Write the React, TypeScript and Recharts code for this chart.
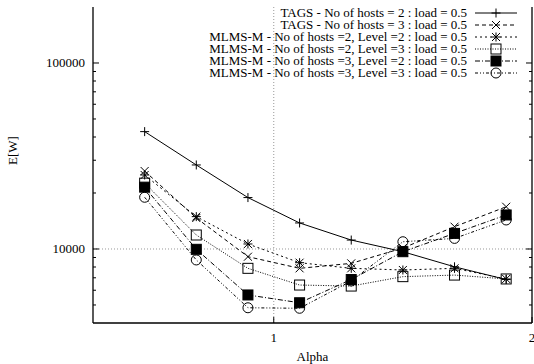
import React from "react";
import {
  LineChart, Line, XAxis, YAxis, ReferenceLine,
} from "recharts";

// ─── Data ─────────────────────────────────────────────────────────────────────
const alpha = [0.5, 0.7, 0.9, 1.1, 1.3, 1.5, 1.7, 1.9];

const tagsH2 = [42760, 28300, 18900, 13800, 11170, 9670, 8020, 6850];
const tagsH3 = [26250, 14680, 9090, 7870, 8370, 10120, 13180, 16870];
const mlmsH2L2 = [25000, 14930, 10640, 8440, 7870, 7710, 7870, 6900];
const mlmsH2L3 = [22600, 11890, 7870, 6400, 6320, 7100, 7240, 6900];
const mlmsH3L2 = [21500, 9960, 5660, 5140, 6850, 9670, 12130, 15240];
const mlmsH3L3 = [18970, 8730, 4830, 4800, 6730, 10940, 11400, 14320];

const xTicks = [1, 2];
const yMajor = [10000, 100000];
const yMinor = [5000, 6000, 7000, 8000, 9000, 20000, 30000, 40000, 50000, 60000, 70000, 80000, 90000];

const data = alpha.map((a, i) => ({
  alpha: a,
  tagsH2: tagsH2[i],
  tagsH3: tagsH3[i],
  mlmsH2L2: mlmsH2L2[i],
  mlmsH2L3: mlmsH2L3[i],
  mlmsH3L2: mlmsH3L2[i],
  mlmsH3L3: mlmsH3L3[i],
}));

type MarkerKind = "plus" | "cross" | "star" | "box" | "boxFilled" | "circle";

const SERIES: { key: string; name: string; dash?: string; marker: MarkerKind }[] = [
  { key: "tagsH2", name: "TAGS - No of hosts = 2 : load = 0.5", marker: "plus" },
  { key: "tagsH3", name: "TAGS - No of hosts = 3 : load = 0.5", dash: "4 3", marker: "cross" },
  { key: "mlmsH2L2", name: "MLMS-M - No of hosts =2, Level =2 : load = 0.5", dash: "2 3", marker: "star" },
  { key: "mlmsH2L3", name: "MLMS-M - No of hosts =2, Level =3 : load = 0.5", dash: "1 1.5", marker: "box" },
  { key: "mlmsH3L2", name: "MLMS-M - No of hosts =3, Level =2 : load = 0.5", dash: "5 2 1 2", marker: "boxFilled" },
  { key: "mlmsH3L3", name: "MLMS-M - No of hosts =3, Level =3 : load = 0.5", dash: "3 2 1 2 1 2", marker: "circle" },
];

const FONT = "'Liberation Serif', 'DejaVu Serif', serif";

// ─── Point markers (gnuplot style) ────────────────────────────────────────────
const Marker = ({ kind, cx, cy }: { kind: MarkerKind; cx: number; cy: number }) => {
  const s = { stroke: "#000", strokeWidth: 1, fill: "none" };
  switch (kind) {
    case "plus":
      return <path d={`M${cx - 4.5},${cy}H${cx + 4.5}M${cx},${cy - 4.5}V${cy + 4.5}`} {...s} />;
    case "cross":
      return <path d={`M${cx - 4},${cy - 4}L${cx + 4},${cy + 4}M${cx - 4},${cy + 4}L${cx + 4},${cy - 4}`} {...s} />;
    case "star":
      return (
        <path
          d={`M${cx - 4.5},${cy}H${cx + 4.5}M${cx},${cy - 4.5}V${cy + 4.5}M${cx - 4},${cy - 4}L${cx + 4},${cy + 4}M${cx - 4},${cy + 4}L${cx + 4},${cy - 4}`}
          {...s}
        />
      );
    case "box":
      return <rect x={cx - 5} y={cy - 5} width={10} height={10} {...s} />;
    case "boxFilled":
      return <rect x={cx - 5} y={cy - 5} width={10} height={10} fill="#000" stroke="#000" />;
    default:
      return <circle cx={cx} cy={cy} r={5} {...s} />;
  }
};

// ─── Axis ticks (drawn inward like gnuplot) ───────────────────────────────────
const LeftTick = ({ x, y, payload }: any) => {
  const major = yMajor.includes(payload.value);
  return (
    <g>
      <line x1={x} x2={x + (major ? 6 : 3)} y1={y} y2={y} stroke="#000" />
      {major && (
        <text x={x - 8} y={y} dy={4.5} textAnchor="end" fontSize={13} fontFamily={FONT} fill="#000">
          {payload.value}
        </text>
      )}
    </g>
  );
};

const RightTick = ({ x, y, payload }: any) => {
  const major = yMajor.includes(payload.value);
  return <line x1={x} x2={x - (major ? 6 : 3)} y1={y} y2={y} stroke="#000" />;
};

const BottomTick = ({ x, y, payload }: any) => (
  <g>
    <line x1={x} x2={x} y1={y} y2={y - 6} stroke="#000" />
    <text x={x} y={y} dy={19} textAnchor="middle" fontSize={13} fontFamily={FONT} fill="#000">
      {payload.value}
    </text>
  </g>
);

const TopTick = ({ x, y }: any) => <line x1={x} x2={x} y1={y} y2={y + 6} stroke="#000" />;

// ─── Legend (top right, inside the plot) ──────────────────────────────────────
const ChartLegend = () => (
  <div style={{ position: "absolute", top: 6.5, right: 17, fontFamily: FONT, fontSize: 13 }}>
    {SERIES.map((s) => (
      <div key={s.key} style={{ display: "flex", justifyContent: "flex-end", alignItems: "center", height: 12 }}>
        <span style={{ display: "block", whiteSpace: "nowrap", height: 12, lineHeight: "12px", overflow: "visible" }}>
          {s.name}
        </span>
        <svg width={42} height={12} style={{ marginLeft: 8, overflow: "visible" }}>
          <line x1={0} x2={42} y1={6} y2={6} stroke="#000" strokeDasharray={s.dash} />
          <Marker kind={s.marker} cx={21} cy={6} />
        </svg>
      </div>
    ))}
  </div>
);

// ─── Component ────────────────────────────────────────────────────────────────
export default function App() {
  return (
    <div style={{ position: "absolute", left: 0, top: 0, width: 534, height: 364, background: "#fff", fontFamily: FONT }}>
      <LineChart width={534} height={364} data={data} margin={{ top: 7, right: 0, bottom: 0, left: 0 }}>
        <XAxis
          xAxisId="bottom"
          dataKey="alpha"
          type="number"
          domain={[0.3, 2]}
          ticks={xTicks}
          interval={0}
          height={41}
          tickSize={0}
          tickMargin={0}
          tick={<BottomTick />}
          axisLine={{ stroke: "#000", strokeWidth: 1.3 }}
          label={{ value: "Alpha", position: "insideBottom", offset: 3, fontSize: 13, fontFamily: FONT, fill: "#000" }}
        />
        <XAxis
          xAxisId="top"
          orientation="top"
          dataKey="alpha"
          type="number"
          domain={[0.3, 2]}
          ticks={xTicks}
          interval={0}
          height={0}
          tickSize={0}
          tickMargin={0}
          tick={<TopTick />}
          axisLine={{ stroke: "#000", strokeWidth: 1.3 }}
        />
        <YAxis
          yAxisId="left"
          type="number"
          scale="log"
          domain={[4000, 200000]}
          allowDataOverflow
          ticks={[...yMinor, ...yMajor]}
          interval={0}
          width={93}
          tickSize={0}
          tickMargin={0}
          tick={<LeftTick />}
          axisLine={{ stroke: "#000", strokeWidth: 1.3 }}
          label={{ value: "E[W]", angle: -90, position: "insideLeft", offset: 12, fontSize: 13, fontFamily: FONT, fill: "#000" }}
        />
        <YAxis
          yAxisId="right"
          orientation="right"
          type="number"
          scale="log"
          domain={[4000, 200000]}
          allowDataOverflow
          ticks={[...yMinor, ...yMajor]}
          interval={0}
          width={2}
          tickSize={0}
          tickMargin={0}
          tick={<RightTick />}
          axisLine={{ stroke: "#000", strokeWidth: 1.3 }}
        />
        <ReferenceLine xAxisId="bottom" yAxisId="left" x={1} stroke="#999" strokeDasharray="1 2" />
        <ReferenceLine xAxisId="bottom" yAxisId="left" y={10000} stroke="#999" strokeDasharray="1 2" />
        {SERIES.map((s) => (
          <Line
            key={s.key}
            xAxisId="bottom"
            yAxisId="left"
            dataKey={s.key}
            name={s.name}
            type="linear"
            stroke="#000"
            strokeWidth={1}
            strokeDasharray={s.dash}
            isAnimationActive={false}
            dot={(p: any) => <Marker key={`${s.key}-${p.index}`} kind={s.marker} cx={p.cx} cy={p.cy} />}
            activeDot={false}
          />
        ))}
      </LineChart>
      <ChartLegend />
    </div>
  );
}
